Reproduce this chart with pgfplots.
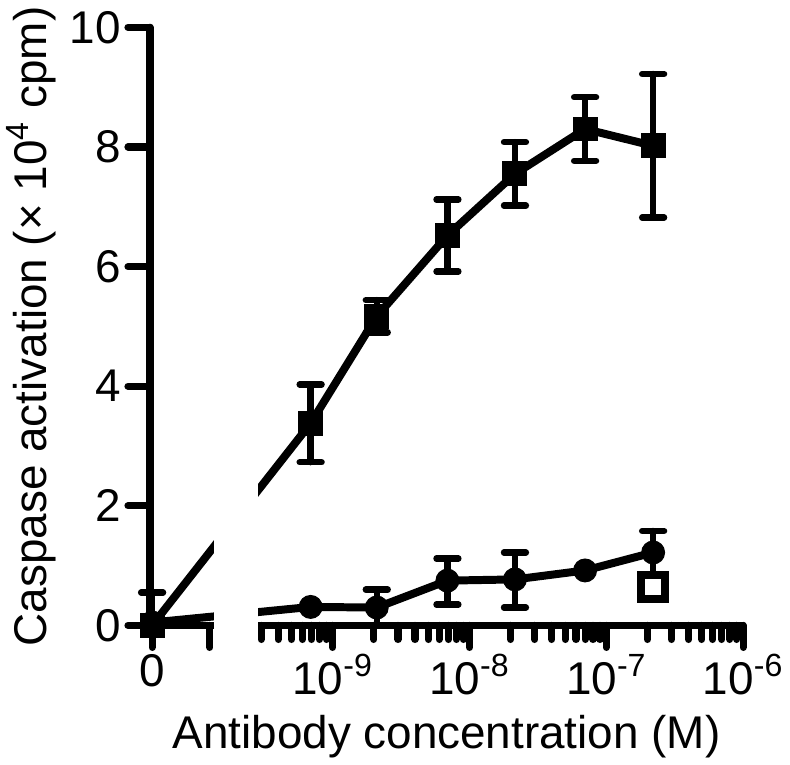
\documentclass[border=0pt]{standalone}
\usepackage{fontspec}
\setmainfont{Liberation Sans}
\usepackage{pgfplots}
\usepackage{pgfplotstable}
\pgfplotsset{compat=1.18}
% conc = antibody concentration (M); pos = log10(conc), with conc 0 set at -10.32 (broken axis)
\pgfplotstableread{
conc pos y
0 -10.32 0
6.9e-10 -9.1612 3.38
2.1e-9 -8.6778 5.17
6.9e-9 -8.1612 6.52
2.15e-8 -7.6676 7.55
7e-8 -7.1549 8.30
2.2e-7 -6.6576 8.02
}\squares
\pgfplotstableread{
conc pos y ep em
0 -10.32 0 0.55 0
6.9e-10 -9.1612 3.38 0.65 0.65
2.1e-9 -8.6778 5.17 0.27 0.27
6.9e-9 -8.1612 6.52 0.60 0.60
2.15e-8 -7.6676 7.55 0.53 0.53
7e-8 -7.1549 8.30 0.53 0.53
2.2e-7 -6.6576 8.02 1.20 1.20
}\squareserr
\pgfplotstableread{
conc pos y
0 -10.32 0.05
6.9e-10 -9.1612 0.31
2.1e-9 -8.6778 0.30
6.9e-9 -8.1612 0.75
2.15e-8 -7.6676 0.77
7e-8 -7.1549 0.92
2.2e-7 -6.6576 1.22
}\circles
\pgfplotstableread{
conc pos y ep em
2.1e-9 -8.6778 0.30 0.30 0.30
6.9e-9 -8.1612 0.75 0.37 0.40
2.15e-8 -7.6676 0.77 0.45 0.47
2.2e-7 -6.6576 1.22 0.36 0.36
}\circleserr
\pgfplotstableread{
conc pos y
2.2e-7 -6.6576 0.64
}\opensq
\begin{document}
\begin{tikzpicture}
\begin{axis}[
  scale only axis, width=297.5pt, height=300pt,
  xmin=-10.336, xmax=-6, ymin=0, ymax=10,
  clip=false,
  axis lines*=left,
  axis line style={line width=3.6pt, line cap=round},
  tick style={line width=3.6pt, line cap=round, black},
  tick align=outside,
  major tick length=11pt, minor tick length=7pt,
  xtick={-10.32,-9.898,-9,-8,-7,-6},
  xticklabels={0,,10\textsuperscript{-9},10\textsuperscript{-8},10\textsuperscript{-7},10\textsuperscript{-6}},
  minor xtick={-9.52288,-9.39794,-9.30103,-9.22185,-9.15490,-9.09691,-9.04576,
    -8.69897,-8.52288,-8.39794,-8.30103,-8.22185,-8.15490,-8.09691,-8.04576,
    -7.69897,-7.52288,-7.39794,-7.30103,-7.22185,-7.15490,-7.09691,-7.04576,
    -6.69897,-6.52288,-6.39794,-6.30103,-6.22185,-6.15490,-6.09691,-6.04576},
  ytick={0,2,4,6,8,10},
  /pgf/number format/assume math mode=true,
  tick label style={font=\fontsize{23}{27}\selectfont},
  label style={font=\fontsize{23}{27}\selectfont},
  xlabel={Antibody concentration (M)},
  xlabel style={yshift=-3pt},
  ylabel={Caspase activation (× 10\textsuperscript{4} cpm)},
  every axis plot/.append style={black},
]
\addplot[line width=4pt, mark=square*, mark size=6pt, mark options={solid, line width=0.5pt}] table[x=pos,y=y] {\squares};
\addplot[only marks, mark=none, forget plot,
  error bars/.cd, y dir=both, y explicit,
  error bar style={line width=3.2pt, line cap=round},
  error mark options={rotate=90, mark size=5.5pt, line width=3.2pt, line cap=round}]
  table[x=pos,y=y,y error plus=ep,y error minus=em] {\squareserr};
\addplot[line width=4pt, mark=*, mark size=5.75pt, mark options={solid, line width=0.5pt}] table[x=pos,y=y] {\circles};
\addplot[only marks, mark=none, forget plot,
  error bars/.cd, y dir=both, y explicit,
  error bar style={line width=3.2pt, line cap=round},
  error mark options={rotate=90, mark size=5.5pt, line width=3.2pt, line cap=round}]
  table[x=pos,y=y,y error plus=ep,y error minus=em] {\circleserr};
\addplot[only marks, mark=square*, mark size=6pt, mark options={line width=4pt, fill=white, draw=black}] table[x=pos,y=y] {\opensq};
\fill[white] (axis cs:-9.87,-0.6) rectangle (axis cs:-9.545,10.2);
\end{axis}
\end{tikzpicture}
\end{document}
